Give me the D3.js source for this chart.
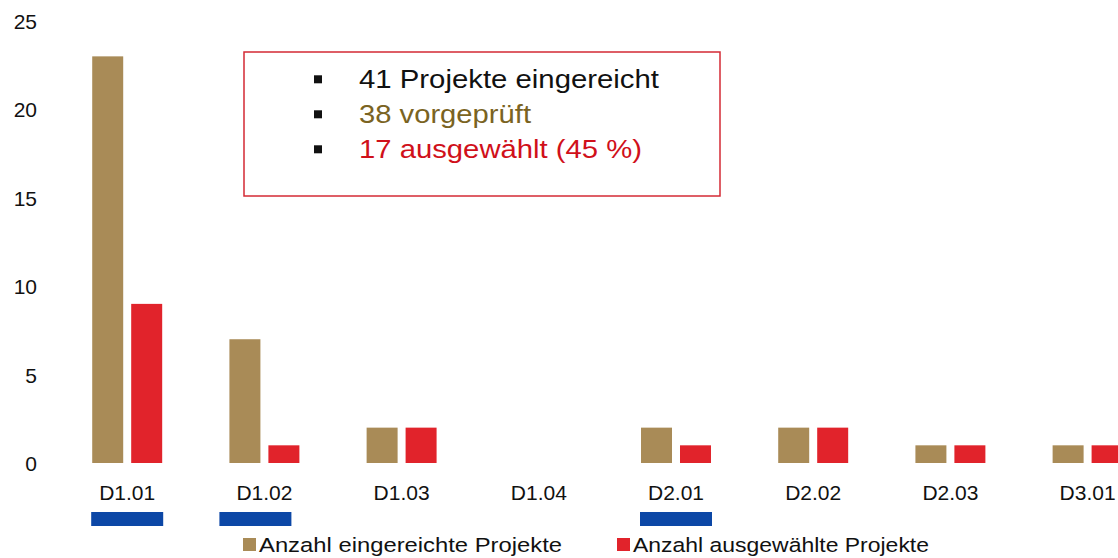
<!DOCTYPE html>
<html>
<head>
<meta charset="utf-8">
<script src="https://cdn.jsdelivr.net/npm/d3@7"></script>
<style>
  body { margin: 0; background: #fff; }
  text { font-family: "Liberation Sans", Arial, sans-serif; }
</style>
</head>
<body>
<svg id="SvgChart"></svg>
<script>
// ------ Data
var categories = ["D1.01", "D1.02", "D1.03", "D1.04", "D2.01", "D2.02", "D2.03", "D3.01"];
var eingereicht = [23, 7, 2, 0, 2, 2, 1, 1];
var ausgewaehlt = [9, 1, 2, 0, 1, 2, 1, 1];
var seriesNames = ["Anzahl eingereichte Projekte", "Anzahl ausgewählte Projekte"];
var yTicks = [0, 5, 10, 15, 20, 25];
// categories marked with the blue bar under the label
var highlighted = ["D1.01", "D1.02", "D2.01"];
var boxLines = ["41 Projekte eingereicht", "38 vorgeprüft", "17 ausgewählt (45 %)"];

// ------ Colors
var colTan = "#a98b57", colRed = "#e1232b", colBlue = "#0c47a6";
var boxColors = ["#111111", "#7a6322", "#d0101a"];

// ------ Sizes
var width = 1118, height = 558;

var svg = d3.select("#SvgChart")
    .attr("width", width)
    .attr("height", height);

// ------ Scales
var step = 137.2, x0Start = 58.6;
var x0 = d3.scaleBand()
    .domain(categories)
    .range([x0Start, x0Start + step * categories.length])
    .paddingInner(0.49)
    .paddingOuter(0.245);

var x1 = d3.scaleBand()
    .domain([0, 1])
    .range([0, x0.bandwidth()])
    .paddingInner(0.205);

var y = d3.scaleLinear().domain([0, 25]).range([463, 21]);

var series = [eingereicht, ausgewaehlt];
var serColors = [colTan, colRed];

// ------ Y axis (labels only)
var yAxis = svg.append("g")
    .attr("transform", "translate(37,0)")
    .call(d3.axisLeft(y).tickValues(yTicks).tickSize(0).tickPadding(0));
yAxis.select(".domain").remove();
yAxis.selectAll("text")
    .style("font-size", "21px")
    .style("fill", "#111")
    .attr("dy", "0.36em");

// ------ X axis (labels only)
var xAxis = svg.append("g")
    .attr("transform", "translate(0,500)")
    .call(d3.axisBottom(x0).tickSize(0).tickPadding(0));
xAxis.select(".domain").remove();
xAxis.selectAll("text")
    .style("font-size", "21px")
    .style("fill", "#111")
    .attr("dy", "0");

// ------ Bars
var groups = svg.selectAll(".grp")
    .data(categories)
  .enter().append("g")
    .attr("class", "grp")
    .attr("transform", d => "translate(" + x0(d) + ",0)");

groups.selectAll("rect")
    .data((d, i) => series.map((s, k) => ({k: k, v: s[i]})))
  .enter().append("rect")
    .attr("x", d => x1(d.k))
    .attr("width", x1.bandwidth())
    .attr("y", d => y(d.v))
    .attr("height", d => y(0) - y(d.v))
    .style("fill", d => serColors[d.k]);

// ------ Blue markers under labels (second one sits a bit left in the original)
var markShift = {"D1.02": -9};
svg.selectAll(".mark")
    .data(highlighted)
  .enter().append("rect")
    .attr("class", "mark")
    .attr("x", d => x0(d) + x0.bandwidth() / 2 - 36 + (markShift[d] || 0))
    .attr("y", 512)
    .attr("width", 72)
    .attr("height", 14)
    .style("fill", colBlue);

// ------ Info box
svg.append("rect")
    .attr("x", 244).attr("y", 52)
    .attr("width", 476).attr("height", 144)
    .style("fill", "#fff")
    .style("stroke", "#d42a35")
    .style("stroke-width", 1.5);

var boxWidths = [300, 172, 283];
boxLines.forEach(function(t, i) {
    var base = 88.3 + i * 35;
    svg.append("rect")
        .attr("x", 314).attr("y", base - 13)
        .attr("width", 8).attr("height", 8)
        .style("fill", "#111");
    svg.append("text")
        .attr("x", 359).attr("y", base)
        .attr("textLength", boxWidths[i])
        .attr("lengthAdjust", "spacingAndGlyphs")
        .style("font-size", "25px")
        .style("fill", boxColors[i])
        .text(t);
});

// ------ Legend
var legX = [243, 617], legW = [305, 298];
seriesNames.forEach(function(n, i) {
    svg.append("rect")
        .attr("x", legX[i]).attr("y", 538)
        .attr("width", 13).attr("height", 13)
        .style("fill", serColors[i]);
    svg.append("text")
        .attr("x", legX[i] + 16).attr("y", 551.5)
        .attr("textLength", legW[i] - 2)
        .attr("lengthAdjust", "spacingAndGlyphs")
        .style("font-size", "20.5px")
        .style("fill", "#111")
        .text(n);
});
</script>
</body>
</html>
